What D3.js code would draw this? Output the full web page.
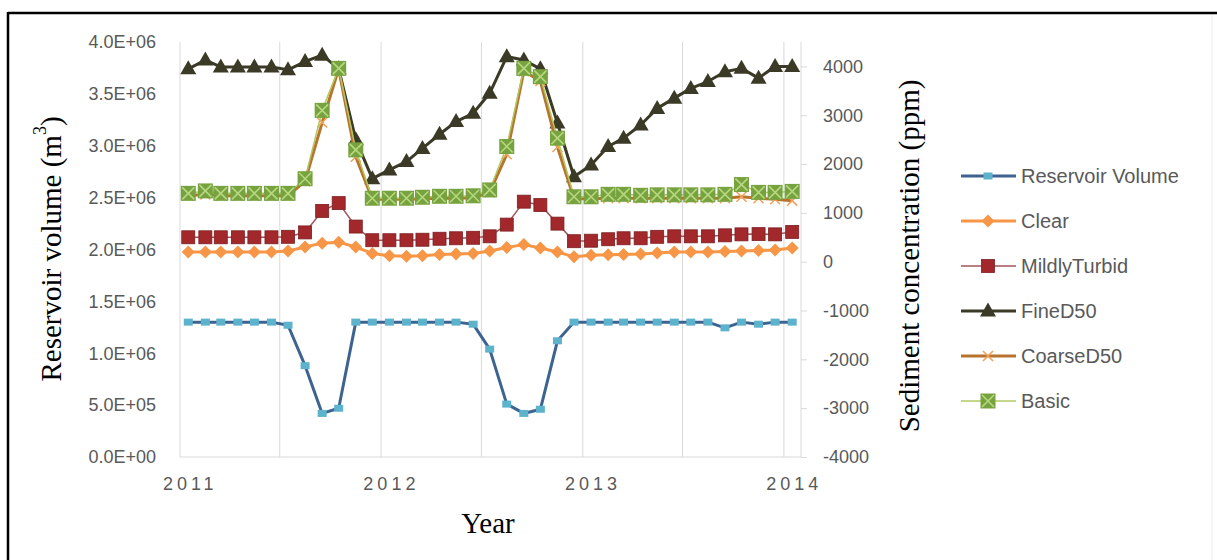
<!DOCTYPE html>
<html>
<head>
<meta charset="utf-8">
<script src="https://cdn.jsdelivr.net/npm/d3@7"></script>
<style>
  html, body { margin: 0; padding: 0; background: #fff; }
  svg { display: block; }
</style>
</head>
<body>
<svg id="chart" width="1217" height="560"></svg>
<script>
// ---------------- data (monthly, Jan 2011 – Jan 2014) ----------------
const months = [
  "2011-01","2011-02","2011-03","2011-04","2011-05","2011-06","2011-07","2011-08","2011-09","2011-10","2011-11","2011-12",
  "2012-01","2012-02","2012-03","2012-04","2012-05","2012-06","2012-07","2012-08","2012-09","2012-10","2012-11","2012-12",
  "2013-01","2013-02","2013-03","2013-04","2013-05","2013-06","2013-07","2013-08","2013-09","2013-10","2013-11","2013-12",
  "2014-01"
];
// primary axis (m^3)
const reservoirVolume = [
  1.30e6,1.30e6,1.30e6,1.30e6,1.30e6,1.30e6,1.27e6,0.88e6,0.42e6,0.47e6,1.30e6,1.30e6,
  1.30e6,1.30e6,1.30e6,1.30e6,1.30e6,1.28e6,1.04e6,0.51e6,0.42e6,0.46e6,1.12e6,1.30e6,
  1.30e6,1.30e6,1.30e6,1.30e6,1.30e6,1.30e6,1.30e6,1.30e6,1.245e6,1.30e6,1.28e6,1.30e6,
  1.30e6
];
// secondary axis (ppm)
const clear = [200,200,200,200,200,200,220,300,380,400,300,170,
  120,110,120,150,160,170,220,290,350,280,200,100,
  130,140,150,160,180,200,200,200,210,220,230,240,280];
const mildlyTurbid = [500,500,500,500,500,500,510,600,1040,1200,720,440,
  440,440,450,470,480,490,520,760,1230,1160,780,420,
  430,460,480,480,510,520,520,520,540,560,565,560,610];
const fineD50 = [3950,4130,3990,3990,3990,3990,3930,4100,4230,3950,2500,1700,
  1880,2050,2320,2610,2870,3040,3450,4200,4130,3950,2840,1740,
  1980,2360,2530,2800,3140,3350,3550,3690,3890,3960,3760,4000,4000];
const coarseD50 = [1350,1380,1350,1350,1350,1350,1350,1650,2850,3950,2150,1280,
  1280,1280,1290,1300,1300,1310,1420,2200,3900,3700,2350,1290,
  1290,1300,1300,1300,1300,1300,1300,1300,1300,1330,1300,1280,1250];
const basic = [1400,1450,1400,1400,1400,1400,1400,1700,3100,3960,2290,1300,
  1300,1300,1320,1340,1340,1350,1470,2360,3960,3790,2530,1330,
  1330,1380,1380,1360,1370,1370,1370,1370,1380,1580,1420,1420,1440];

const leftTicks = [0, 5e5, 1e6, 1.5e6, 2e6, 2.5e6, 3e6, 3.5e6, 4e6];
const rightTicks = [-4000,-3000,-2000,-1000,0,1000,2000,3000,4000];
const yearLabels = ["2011","2012","2013","2014"];
const seriesNames = ["Reservoir Volume","Clear","MildlyTurbid","FineD50","CoarseD50","Basic"];

// ---------------- layout ----------------
const svg = d3.select("#chart");
const P = {left: 180, right: 801, top: 42, bottom: 457};
const parse = d3.timeParse("%Y-%m");
const slotCenter = d => d3.timeDay.offset(d, 15); // Excel date axis: points between tick marks

const x = d3.scaleTime()
  .domain([parse("2011-01"), parse("2014-02")])
  .range([P.left, P.right]);
const yL = d3.scaleLinear().domain([0, 4e6]).range([P.bottom, P.top]);
const yR = d3.scaleLinear().domain([-4000, 4500]).range([P.bottom, P.top]);

const dates = months.map(m => slotCenter(parse(m)));

const gridC = "#d9d9d9", textC = "#595959";
const sansFont = "'Liberation Sans', Arial, sans-serif";
const serifFont = "'Liberation Serif', 'Times New Roman', serif";

// frame (cropped border)
svg.append("line").attr("x1", 8).attr("x2", 1217).attr("y1", 13).attr("y2", 13)
  .attr("stroke", "#000").attr("stroke-width", 2.5);
svg.append("line").attr("x1", 8).attr("x2", 8).attr("y1", 12).attr("y2", 560)
  .attr("stroke", "#000").attr("stroke-width", 2.5);
svg.append("line").attr("x1", 1212).attr("x2", 1212).attr("y1", 15).attr("y2", 560)
  .attr("stroke", "#ececec").attr("stroke-width", 1);

// vertical gridlines every 6 months
const gridDates = d3.timeMonth.every(6).range(parse("2011-01"), parse("2014-02"));
svg.append("g").selectAll("line").data(gridDates).join("line")
  .attr("x1", d => x(d)).attr("x2", d => x(d))
  .attr("y1", P.top).attr("y2", P.bottom)
  .attr("stroke", gridC).attr("stroke-width", 1);

// bottom axis line
svg.append("line").attr("x1", P.left).attr("x2", P.right)
  .attr("y1", P.bottom).attr("y2", P.bottom).attr("stroke", gridC).attr("stroke-width", 1.2);

// x labels (centered on January slots)
const xLab = svg.append("g");
xLab.selectAll("text").data(yearLabels).join("text")
  .attr("x", d => x(slotCenter(parse(d + "-01"))) + 2)
  .attr("y", 484)
  .attr("text-anchor", "middle").attr("dominant-baseline", "central")
  .attr("font-family", sansFont).attr("font-size", 18)
  .attr("letter-spacing", 4)
  .attr("fill", textC).text(d => d);

// left axis labels
const fmtE = v => {
  const e = v === 0 ? 0 : Math.floor(Math.log10(v));
  const m = v / Math.pow(10, e);
  return m.toFixed(1) + "E+" + String(e).padStart(2, "0");
};
const leftAxis = d3.axisLeft(yL).tickValues(leftTicks).tickSize(0).tickPadding(24).tickFormat(fmtE);
const gL = svg.append("g").attr("transform", `translate(${P.left},0)`).call(leftAxis);
gL.select(".domain").remove();
gL.selectAll("text").attr("font-family", sansFont).attr("font-size", 18).attr("fill", textC);

// right axis
const rightAxis = d3.axisRight(yR).tickValues(rightTicks).tickSize(6).tickPadding(16)
  .tickFormat(v => String(v));
const gR = svg.append("g").attr("transform", `translate(${P.right},0)`).call(rightAxis);
gR.select(".domain").attr("stroke", gridC).attr("d", `M0,${P.top}V${P.bottom}`);
gR.selectAll(".tick line").attr("stroke", gridC);
gR.selectAll("text").attr("font-family", sansFont).attr("font-size", 18).attr("fill", textC);

// axis titles
const lt = svg.append("text")
  .attr("transform", "translate(51,249) rotate(-90)")
  .attr("text-anchor", "middle").attr("dominant-baseline", "central")
  .attr("font-family", serifFont).attr("font-size", 29).attr("fill", "#000");
lt.append("tspan").text("Reservoir volume (m");
lt.append("tspan").attr("font-size", 18).attr("dy", -11).text("3");
lt.append("tspan").attr("dy", 11).text(")");

svg.append("text")
  .attr("transform", "translate(909,256) rotate(-90)")
  .attr("text-anchor", "middle").attr("dominant-baseline", "central")
  .attr("font-family", serifFont).attr("font-size", 29).attr("fill", "#000")
  .text("Sediment concentration (ppm)");

svg.append("text").attr("x", 488).attr("y", 533)
  .attr("text-anchor", "middle")
  .attr("font-family", serifFont).attr("font-size", 29).attr("fill", "#000")
  .text("Year");

// ---------------- series ----------------
const styles = {
  "Reservoir Volume": {line: "#3d6390", lw: 3},
  "Clear":            {line: "#f79646", lw: 3},
  "MildlyTurbid":     {line: "#a0565a", lw: 1.5},
  "FineD50":          {line: "#3b3a26", lw: 3},
  "CoarseD50":        {line: "#b8732c", lw: 3},
  "Basic":            {line: "#b0c860", lw: 1.5}
};

function drawMarker(g, name, cx, cy) {
  if (name === "Reservoir Volume") {
    g.append("rect").attr("x", cx - 4.5).attr("y", cy - 3.5).attr("width", 9).attr("height", 7)
      .attr("fill", "#5db2cc");
  } else if (name === "Clear") {
    g.append("path").attr("d", `M${cx},${cy-6.5}L${cx+6.5},${cy}L${cx},${cy+6.5}L${cx-6.5},${cy}Z`)
      .attr("fill", "#f79646");
  } else if (name === "MildlyTurbid") {
    g.append("rect").attr("x", cx - 6.5).attr("y", cy - 6.5).attr("width", 13).attr("height", 13)
      .attr("fill", "#a2282b").attr("stroke", "#7d1f22").attr("stroke-width", 0.8);
  } else if (name === "FineD50") {
    g.append("path").attr("d", `M${cx},${cy-8.5}L${cx+8},${cy+5.5}L${cx-8},${cy+5.5}Z`)
      .attr("fill", "#3b3a26");
  } else if (name === "CoarseD50") {
    g.append("path").attr("d", `M${cx-5},${cy-5}L${cx+5},${cy+5}M${cx+5},${cy-5}L${cx-5},${cy+5}`)
      .attr("stroke", "#f2a35c").attr("stroke-width", 1.6).attr("fill", "none");
  } else if (name === "Basic") {
    g.append("rect").attr("x", cx - 7.5).attr("y", cy - 7.5).attr("width", 15).attr("height", 15)
      .attr("fill", "#76a33f");
    g.append("path").attr("d", `M${cx-6},${cy-6}L${cx+6},${cy+6}M${cx+6},${cy-6}L${cx-6},${cy+6}`)
      .attr("stroke", "#b7d77e").attr("stroke-width", 1.6).attr("fill", "none");
  }
}

const seriesData = [
  {name: "Reservoir Volume", values: reservoirVolume, y: yL},
  {name: "Clear", values: clear, y: yR},
  {name: "MildlyTurbid", values: mildlyTurbid, y: yR},
  {name: "FineD50", values: fineD50, y: yR},
  {name: "CoarseD50", values: coarseD50, y: yR},
  {name: "Basic", values: basic, y: yR}
];

const plotG = svg.append("g");
seriesData.forEach(s => {
  const g = plotG.append("g");
  const line = d3.line().x((d, i) => x(dates[i])).y(d => s.y(d));
  g.append("path").datum(s.values).attr("d", line)
    .attr("fill", "none").attr("stroke", styles[s.name].line)
    .attr("stroke-width", styles[s.name].lw).attr("stroke-linejoin", "round");
  const mg = g.append("g");
  s.values.forEach((v, i) => drawMarker(mg, s.name, x(dates[i]), s.y(v)));
});

// ---------------- legend ----------------
const legY = [176, 221, 266, 311, 356, 401];
const lg = svg.append("g");
seriesNames.forEach((name, i) => {
  const yy = legY[i];
  lg.append("line").attr("x1", 961).attr("x2", 1016).attr("y1", yy).attr("y2", yy)
    .attr("stroke", styles[name].line).attr("stroke-width", styles[name].lw);
  drawMarker(lg, name, 988, yy);
  lg.append("text").attr("x", 1021).attr("y", yy)
    .attr("dominant-baseline", "central")
    .attr("font-family", sansFont).attr("font-size", 20).attr("fill", textC)
    .text(name);
});
</script>
</body>
</html>
